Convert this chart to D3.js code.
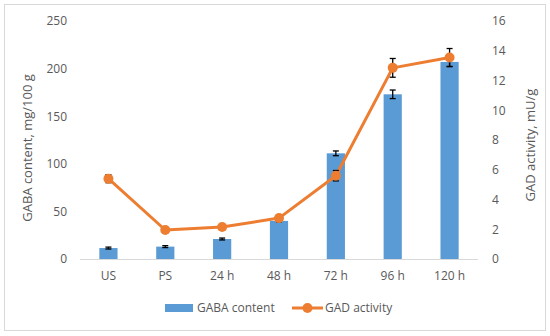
<!DOCTYPE html>
<html>
<head>
<meta charset="utf-8">
<script src="https://cdn.jsdelivr.net/npm/d3@7"></script>
<style>
	body { margin: 0; background: #fff; }
	text { font-family: "Open Sans", sans-serif; fill: #595959; }
</style>
</head>
<body>
<svg id="svg_main" width="550" height="336"></svg>
<script>
var categories = ["US", "PS", "24 h", "48 h", "72 h", "96 h", "120 h"];
var gaba = [11.5, 13, 21, 40, 111, 173, 207];
var gabaErr = [1, 1, 1, 1, 2.5, 4.5, 5];
var gad = [5.4, 1.95, 2.15, 2.75, 5.6, 12.85, 13.55];
var gadErr = [0.27, 0.05, 0.05, 0.15, 0.35, 0.63, 0.6];
var leftTicks = [0, 50, 100, 150, 200, 250];
var rightTicks = [0, 2, 4, 6, 8, 10, 12, 14, 16];

var blue = "#5B9BD5", orange = "#ED7D31";
var margin = { top: 21, left: 80, right: 72, bottom: 76 };

var svg = d3.select("#svg_main");

svg.append("rect")
	.attr("x", 4.5).attr("y", 4.5)
	.attr("width", 541).attr("height", 326)
	.attr("fill", "none")
	.attr("stroke", "#d9d9d9");

var width = 550 - margin.left - margin.right,
	height = 336 - margin.top - margin.bottom - 1;

var g = svg.append("g")
	.attr("transform", `translate(${margin.left}, ${margin.top})`);

var x = d3.scaleBand().range([0, width]).domain(categories).paddingInner(0.68).paddingOuter(0.34),
	y = d3.scaleLinear().range([height, 0]).domain([0, 250]),
	y2 = d3.scaleLinear().range([height, 0]).domain([0, 16]);

// baseline
g.append("line")
	.attr("x1", 0).attr("x2", width)
	.attr("y1", height + 0.5).attr("y2", height + 0.5)
	.attr("stroke", "#d9d9d9");

var yAxis = d3.axisLeft(y).tickValues(leftTicks).tickSize(0).tickPadding(13),
	yAxis2 = d3.axisRight(y2).tickValues(rightTicks).tickSize(0).tickPadding(14),
	xAxis = d3.axisBottom(x).tickSize(0).tickPadding(12);

[["left", yAxis, 0], ["right", yAxis2, width], ["bottom", xAxis, 0]].forEach(a => {
	let ax = g.append("g")
		.attr("transform", a[0] == "bottom" ? `translate(0, ${height})` : `translate(${a[2]}, 0)`)
		.call(a[1]);
	ax.select(".domain").remove();
	ax.selectAll("text")
		.attr("font-size", "12px")
		.attr("font-family", "Open Sans")
		.attr("fill", "#595959");
});

// bars
g.selectAll(".bar")
	.data(gaba)
	.enter().append("rect")
	.attr("class", "bar")
	.attr("x", (d, i) => x(categories[i]))
	.attr("width", x.bandwidth())
	.attr("y", d => y(d))
	.attr("height", d => height - y(d))
	.attr("fill", blue);

function errorBars(vals, errs, scale) {
	let eb = g.append("g").attr("stroke", "#000").attr("stroke-width", 1.3);
	vals.forEach((v, i) => {
		let cx = x(categories[i]) + x.bandwidth() / 2,
			top = scale(v + errs[i]),
			bot = scale(v - errs[i]);
		eb.append("line").attr("x1", cx).attr("x2", cx).attr("y1", top).attr("y2", bot);
		eb.append("line").attr("x1", cx - 3).attr("x2", cx + 3).attr("y1", top).attr("y2", top);
		eb.append("line").attr("x1", cx - 3).attr("x2", cx + 3).attr("y1", bot).attr("y2", bot);
	});
}

errorBars(gaba, gabaErr, y);

// GAD line
var line = d3.line()
	.x((d, i) => x(categories[i]) + x.bandwidth() / 2)
	.y(d => y2(d));

g.append("path")
	.datum(gad)
	.attr("d", line)
	.attr("fill", "none")
	.attr("stroke", orange)
	.attr("stroke-width", 3)
	.attr("stroke-linejoin", "round");

errorBars(gad, gadErr, y2);

g.selectAll(".dot")
	.data(gad)
	.enter().append("circle")
	.attr("class", "dot")
	.attr("cx", (d, i) => x(categories[i]) + x.bandwidth() / 2)
	.attr("cy", d => y2(d))
	.attr("r", 5)
	.attr("fill", orange);

// axis titles
svg.append("text")
	.attr("transform", "translate(27, 148) rotate(-90)")
	.attr("text-anchor", "middle")
	.attr("dy", "0.35em")
	.attr("font-size", "13px")
	.text("GABA content, mg/100 g");

svg.append("text")
	.attr("transform", "translate(530, 145) rotate(-90)")
	.attr("text-anchor", "middle")
	.attr("dy", "0.35em")
	.attr("font-size", "13px")
	.text("GAD activity, mU/g");

// legend
var legend = svg.append("g").attr("class", "legend");
legend.append("rect")
	.attr("x", 165).attr("y", 304)
	.attr("width", 28).attr("height", 8)
	.attr("fill", blue);
legend.append("text")
	.attr("x", 197).attr("y", 308)
	.attr("dy", "0.35em")
	.attr("font-size", "12px")
	.text("GABA content");
legend.append("line")
	.attr("x1", 292).attr("x2", 323)
	.attr("y1", 308).attr("y2", 308)
	.attr("stroke", orange).attr("stroke-width", 3);
legend.append("circle")
	.attr("cx", 307.5).attr("cy", 308).attr("r", 5)
	.attr("fill", orange);
legend.append("text")
	.attr("x", 325).attr("y", 308)
	.attr("dy", "0.35em")
	.attr("font-size", "12px")
	.text("GAD activity");
</script>
</body>
</html>
